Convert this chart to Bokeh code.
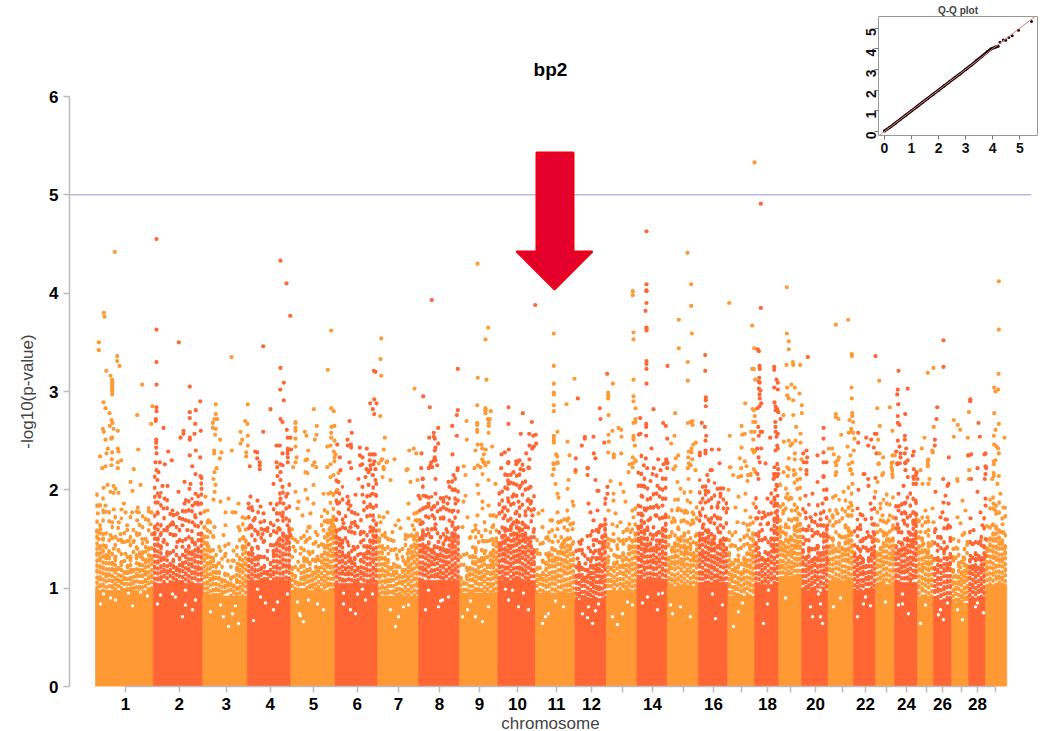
from math import pi
from bokeh.plotting import figure
from bokeh.layouts import column
from bokeh.models import FixedTicker, Title
from bokeh.embed import file_html
from bokeh.resources import INLINE

ORANGE = "#FF9933"
RED = "#FF6633"
FONT = "Liberation Sans"

# chromosome layout on the position axis
chr_edges = [95, 152.7, 202.3, 246.7, 290.3, 334.3, 377.3, 418, 459, 497.3, 535, 574.3, 606, 636.3, 666.7,
             697.7, 727.3, 754, 778.3, 801, 827.7, 852.7, 875.3, 894, 917, 932.7, 951.3, 968, 985, 1006.3]
# level up to which each chromosome is a solid band
chr_core = [0.98, 1.05, 0.92, 1.08, 0.98, 1.05, 0.92, 1.08, 0.95, 1.08, 0.95, 0.88, 0.98, 1.08, 1.02,
            1.06, 0.92, 1.04, 1.12, 0.98, 1.08, 0.98, 1.04, 1.06, 0.9, 0.88, 0.85, 0.9, 1.04]
# level up to which the band is still dense, read across each chromosome from left to right
chr_dense = [
 [1.58,1.42,1.5,1.33,1.37,1.25,1.3,1.2,1.26,1.16,1.22,1.3,1.18,1.33,1.24,1.36,1.28,1.4,1.32],
 [1.62,1.5,1.42,1.3,1.36,1.24,1.28,1.2,1.3,1.25,1.38,1.42,1.36,1.45,1.4,1.55],
 [1.52,1.45,1.38,1.3,1.22,1.16,1.08,1.14,1.05,1.1,1.02,1.2,1.3,1.42,1.48],
 [1.35,1.4,1.3,1.32,1.2,1.22,1.16,1.25,1.35,1.45,1.5,1.55,1.52,1.6],
 [1.2,1.12,1.05,1.22,1.3,1.18,1.25,1.15,1.28,1.2,1.33,1.42,1.55,1.68,1.72],
 [1.58,1.5,1.48,1.32,1.35,1.26,1.3,1.2,1.28,1.34,1.42,1.48,1.6,1.65],
 [1.5,1.42,1.3,1.28,1.2,1.16,1.22,1.12,1.18,1.25,1.3,1.42,1.5,1.55],
 [1.5,1.58,1.42,1.46,1.38,1.42,1.33,1.4,1.45,1.38,1.5,1.55,1.6,1.52],
 [1.1,1.05,1.12,1.2,1.32,1.38,1.28,1.3,1.36,1.22,1.35,1.45,1.5],
 [1.45,1.52,1.6,1.5,1.62,1.55,1.68,1.6,1.66,1.55,1.5,1.42,1.38],
 [1.2,1.12,1.15,1.25,1.35,1.4,1.3,1.36,1.42,1.48,1.5,1.42,1.35],
 [1.12,1.25,1.2,1.1,1.18,1.28,1.22,1.3,1.38,1.52,1.6],
 [1.28,1.2,1.25,1.32,1.22,1.35,1.3,1.42,1.48,1.55],
 [1.62,1.75,1.58,1.5,1.45,1.4,1.55,1.48,1.6,1.65],
 [1.3,1.38,1.45,1.5,1.42,1.55,1.48,1.42,1.35,1.45],
 [1.55,1.62,1.5,1.58,1.45,1.52,1.42,1.48,1.5,1.4],
 [1.35,1.25,1.2,1.28,1.15,1.3,1.35,1.42,1.55],
 [1.45,1.35,1.3,1.28,1.35,1.5,1.7,1.85],
 [1.6,1.45,1.55,1.48,1.5,1.62,1.7,1.65],
 [1.38,1.3,1.4,1.28,1.3,1.42,1.35,1.55,1.6],
 [1.42,1.5,1.38,1.45,1.4,1.52,1.6,1.55],
 [1.35,1.3,1.38,1.28,1.22,1.3,1.4,1.55],
 [1.35,1.4,1.45,1.55,1.48,1.5],
 [1.42,1.38,1.45,1.4,1.5,1.55,1.68,1.75],
 [1.42,1.5,1.38,1.45,1.32],
 [1.2,1.3,1.22,1.38,1.3,1.25],
 [1.18,1.12,1.25,1.15,1.3,1.22],
 [1.28,1.22,1.35,1.2,1.3,1.42],
 [1.4,1.5,1.55,1.62,1.58,1.48,1.42],
]
# level where the scattered cloud above the dense band thins out
chr_cloud = [1.85,1.95,1.7,1.9,1.8,1.95,1.7,1.95,1.75,2.0,1.75,1.7,1.75,2.0,1.85,1.95,1.7,1.9,1.9,1.85,1.85,1.8,1.85,1.9,1.7,1.8,1.7,1.7,1.8]
chr_ticks = [125, 178.7, 225.7, 269.7, 313, 356.7, 398, 439, 479, 517, 556, 591, 622, 652, 683, 713, 741, 767,
             790, 815, 842, 865, 886, 906, 926, 942, 961, 977, 995]
chr_tick_labels = ["1", "2", "3", "4", "5", "6", "7", "8", "9", "10", "11", "12", "", "14", "", "16", "", "18",
                   "", "20", "", "22", "", "24", "", "26", "", "28", ""]

# points, flat: position, -log10(p), position, -log10(p) ...
chr_1 = [114.3,4.42,103.3,3.8,104,3.76,98.3,3.5,98.3,3.42,116.7,3.36,116.7,3.31,119,3.26,105.7,3.21,110,3.16,
111.7,3.12,111.7,3.1,111.7,3.08,111.7,3.06,111.7,3.04,111.7,3.02,111.7,3.0,111.7,2.97,141.7,3.07,103,2.89,105,2.83,
109,2.78,136.7,2.76,152,2.85,150.7,2.67,111,2.71,112,2.68,109.3,2.65,102.3,2.62,103.3,2.59,113,2.62,117.3,2.6,
111.7,2.53,110.7,2.52,105,2.51,107.3,2.42,117.3,2.42,137.7,2.41,106,2.37,111.7,2.38,118,2.39,99.7,2.34,111.3,2.31,
120.7,2.3,117.3,2.28,111,2.25,105,2.24,101.7,2.22,117.3,2.22,133.3,2.21,
103,2.02,107,2.05,110,1.98,113,2.04,115,2.01,113,1.97,118,1.97,130,2.08,132,1.99,140,2.05,99.3,1.84,105,1.84,
103.3,1.77,123.3,1.86,113.3,1.8,121,1.8,125,1.77,137.3,1.82,131.7,1.77,138.3,1.77,148.3,1.78,151,1.77,97.3,1.76,
111.7,1.67,118.3,1.67,126.7,1.64,136.7,1.69,150,1.65,100,1.6,102.7,1.55,98.3,1.5,110,1.54,115,1.52,120,1.55,
136.7,1.54,141.7,1.5,146.7,1.47,105,1.43,121.7,1.47,128.3,1.48,133.3,1.48,113.3,1.4,118.3,1.38,125,1.35,136.7,1.4,
145,1.37,98.3,1.35,106.7,1.33,115,1.32,130,1.32,140,1.32,150,1.31]
chr_2 = [156,4.55,156,3.63,178.3,3.5,156,3.3,156,3.07,189.3,3.05,156,2.84,156,2.8,199.7,2.9,195.3,2.81,189.3,2.79,
189.3,2.73,155.3,2.72,155.3,2.7,194.7,2.67,163,2.63,200.3,2.6,183,2.6,183,2.57,194,2.57,180,2.53,189.3,2.53,
189.3,2.51,155.7,2.51,155.7,2.48,155.7,2.43,195.3,2.4,167.7,2.39,156,2.37,189.3,2.35,199.7,2.33,171.3,2.3,155,2.28,
159.3,2.28,164.3,2.26,191.7,2.24,156,2.2,
158,2.18,157,2.1,162,2.04,167,2.04,178,1.98,184,2.08,190,2.06,195,2.16,200,2.14,201,2.12,189,2.01,195,1.96,201,2.01,
159,1.93,164,1.91,155,1.87,157,1.77,163,1.81,172,1.79,177,1.76,184,1.86,192,1.84,197,1.87,195,1.72,192,1.67,187,1.59,
198,1.55,157,1.65,167,1.62,160,1.54,172,1.67,175,1.54,182,1.64,200,1.76,153,1.55,163,1.47,177,1.47,192,1.47,200,1.49,182,1.42]
chr_3 = [231,3.35,215.3,2.87,247.3,2.87,215.3,2.77,216.7,2.72,214,2.72,212.3,2.68,244.7,2.7,247,2.67,212.3,2.63,
215.3,2.62,240,2.59,214.7,2.56,247.3,2.55,219.7,2.51,241.7,2.51,240,2.47,247.3,2.45,213.7,2.4,213.7,2.37,231.3,2.4,
221,2.38,245.7,2.38,219.3,2.32,245.7,2.34,216,2.22,
214,2.18,213,2.11,215,2.05,205,1.93,214,1.98,213,1.9,220,1.88,228,1.91,232,1.77,225,1.77,235,1.77,225,1.64,207,1.79,
208,1.69,214,1.62,223,1.54,238,1.86,242,1.72,238,1.62,245,1.71,204,1.62,207,1.52,213,1.52,228,1.45,233,1.38,220,1.38,
208,1.42,225,1.35,232,1.28,242,1.42,243,1.52,218,1.25,237,1.25,207,1.32]
chr_4 = [280,4.33,286,4.1,289.7,3.77,262.7,3.46,280,3.24,283.3,3.09,279.7,3.02,283.3,2.91,270,2.82,280,2.72,282,2.69,
262.7,2.59,286.3,2.61,287.3,2.53,290,2.53,276,2.45,279.3,2.45,287.3,2.42,287.3,2.4,290.7,2.41,287,2.37,282,2.37,
287.3,2.33,254.7,2.39,256.7,2.38,256.7,2.32,259.3,2.28,259.3,2.25,259.3,2.21,249.3,2.24,276,2.28,280,2.26,282,2.25,
276.7,2.23,287.3,2.28,
250,1.93,248,1.86,252,1.79,257,1.89,260,1.83,263,1.76,253,1.69,260,1.67,250,1.64,257,1.57,262,1.55,263,1.47,273,1.64,
277,1.69,282,1.73,287,1.96,280,2.1,282,2.03,280,1.91,283,1.86,273,2.06,270,1.86,278,1.61,287,1.64,290,1.54,267,1.61,
278,1.49,287,1.49,257,1.42,273,1.38,252,1.35,260,1.32,280,2.18,277,2.14]
chr_5 = [330.7,3.62,327.3,3.22,313.3,2.82,330.7,2.83,333.3,2.8,295,2.69,295,2.68,316.3,2.65,331,2.64,334,2.65,295,2.63,
295,2.6,304.3,2.59,306,2.55,316,2.56,330.7,2.58,295,2.52,314.3,2.51,330.7,2.53,334,2.5,330,2.45,326.7,2.44,295,2.44,
307.7,2.4,333.3,2.39,335,2.36,334,2.33,296,2.33,306.7,2.31,305,2.3,295,2.28,314,2.28,312.3,2.25,315.7,2.23,330,2.26,
326.7,2.23,334,2.29,292.7,2.23,
295,1.98,298,1.88,305,2.0,307,1.91,313,2.05,313,1.86,310,1.76,323,1.96,328,1.96,333,1.96,337,2.0,330,2.13,333,2.15,
338,2.17,307,2.17,305,2.18,297,1.81,302,1.74,308,1.62,297,1.47,305,1.47,313,1.45,327,1.67,332,1.64,323,1.59,317,1.54,
323,1.44,308,1.37,293,1.42,300,1.35,317,1.32,330,1.39,307,1.27,327,1.22,331,1.66,334,1.62,329,1.6,333,1.57]
chr_6 = [373.3,3.21,375,3.2,373.7,2.92,369.7,2.88,376,2.88,372.3,2.82,373.7,2.77,349,2.7,351.3,2.58,347,2.51,347.3,2.45,
350.3,2.46,350.7,2.43,336.7,2.46,359.3,2.43,366.3,2.42,339.3,2.33,359.3,2.35,362,2.33,369.3,2.36,372,2.36,374.3,2.36,
369.3,2.3,374,2.29,349,2.28,361.7,2.26,360,2.25,372.7,2.26,370,2.25,350.7,2.22,366,2.21,370,2.21,375,2.21,
347,1.93,355,1.95,362,1.95,368,2.18,372,2.15,375,2.1,362,2.03,372,1.96,375,1.95,350,1.84,347,1.86,368,2.05,365,2.13,
358,2.11,340,2.2,338,2.08,337,1.86,338,1.77,343,1.66,350,1.62,355,1.64,360,1.55,370,1.83,373,1.69,370,1.62,375,1.52,
363,1.49,347,1.47,340,1.45,353,1.42,360,1.35,368,1.37,342,1.33,350,1.3]
chr_7 = [380.7,3.54,380,3.33,380.7,3.16,379.7,2.75,384.3,2.53,383.3,2.41,380.7,2.3,386.7,2.29,378.3,2.27,383.3,2.21,
414,3.03,408.7,2.4,413.3,2.42,415.7,2.37,394,2.31,381.7,2.31,386,2.28,406,2.2,
383,2.23,382,2.13,390,2.1,407,2.21,410,2.08,417,2.1,408,1.86,387,1.77,383,1.72,380,1.67,398,1.69,395,1.64,392,1.57,
408,1.71,415,1.69,418,1.69,400,1.61,412,1.64,393,1.48,385,1.52,405,1.5,413,1.53,415,1.41,395,1.4,407,1.35,388,1.35,
397,1.3,412,1.32,382,1.41,403,1.28,392,1.21,408,1.21]
chr_8 = [431.3,3.93,457.3,3.23,422.7,2.95,429.3,2.84,457.3,2.81,456.3,2.76,451.7,2.65,437.7,2.63,433.3,2.58,428.7,2.53,
433.3,2.54,434.3,2.52,437.7,2.47,435,2.43,434.3,2.4,456.3,2.55,421,2.37,452,2.36,434.3,2.33,433.3,2.3,430.7,2.28,
436.7,2.25,431.7,2.23,428.3,2.22,420.7,2.22,457.3,2.22,
435,2.3,430,2.25,422,2.11,435,2.11,418,1.94,423,1.94,435,1.96,428,1.86,433,1.83,443,1.88,447,1.86,455,1.86,453,1.79,
432,1.74,435,1.65,443,1.72,452,1.67,420,1.65,427,1.6,435,1.6,455,1.6,447,1.57,422,1.53,453,1.52,430,1.52,438,1.47,
452,1.45,423,1.41,445,1.49,432,1.38,457,2.2,453,2.15,448,2.08,449,2.03,453,2.0]
chr_9 = [477,4.3,487.7,3.65,485,3.53,477.3,3.14,486,3.12,476.7,2.86,485,2.83,485,2.81,485,2.78,490.3,2.8,487.3,2.72,
489.3,2.72,466,2.7,476.7,2.68,476.7,2.66,476.7,2.61,476.7,2.59,488.3,2.68,488.3,2.65,488,2.58,466.3,2.51,477.3,2.46,
481,2.46,481.7,2.42,485.3,2.41,491.7,2.44,475,2.4,483.3,2.36,481.7,2.31,483.3,2.28,487.7,2.28,477.3,2.25,480,2.23,
463.3,2.24,474,2.22,
483,2.28,485,2.25,482,2.16,465,2.15,477,2.05,488,2.1,495,2.06,478,1.96,465,1.94,482,1.88,488,1.84,482,1.81,463,1.88,
467,1.72,477,1.74,490,1.74,462,1.62,475,1.64,485,1.59,492,1.62,470,1.52,482,1.48,492,1.5,475,1.41,485,1.38,493,1.38,
472,1.32,482,1.28,492,1.25,467,1.18]
chr_10 = [534.7,3.88,508,2.84,522.3,2.78,531.3,2.69,508,2.67,520.3,2.57,528.7,2.57,532.7,2.55,535.3,2.56,529,2.45,
535.7,2.47,533.3,2.44,531.7,2.42,525.7,2.37,504.3,2.38,508.3,2.41,501,2.36,529,2.31,507.7,2.28,515.7,2.29,519,2.3,
515.7,2.26,507.7,2.27,500.7,2.22,528.3,2.22,520,2.21,
508,2.28,517,2.28,507,2.15,513,2.18,523,2.2,528,2.23,508,2.06,520,2.04,530,2.03,507,2.01,512,1.93,508,1.88,503,1.82,
518,1.88,527,1.89,530,1.86,515,1.76,525,1.74,532,1.74,503,1.71,512,1.65,518,1.67,507,1.59,525,1.62,533,1.57,502,1.53,
517,1.53,523,1.5,500,1.43,510,1.41,530,1.47,532,1.35,503,1.35,518,1.33]
chr_11 = [553.3,3.59,553.3,3.26,553.3,3.08,553.3,2.99,553.3,2.97,574,3.13,553.3,2.86,553.3,2.8,566,2.87,557,2.59,553.3,2.55,
553.3,2.53,553.3,2.5,553.3,2.48,567,2.49,555.7,2.36,556.7,2.34,569,2.35,553.3,2.26,557,2.27,553.3,2.21,
553,2.27,557,2.28,552,2.15,555,2.06,568,2.1,567,2.01,557,1.96,558,1.92,572,1.88,575,2.18,573,1.84,557,1.77,542,1.79,
538,1.76,550,1.69,558,1.67,568,1.71,572,1.6,542,1.62,547,1.52,557,1.6,567,1.59,552,1.47,562,1.45,540,1.45,572,1.45,
537,1.35,548,1.32,560,1.37,542,1.28,565,1.28]
chr_12 = [606.7,3.18,577.3,2.93,599.3,2.83,600,2.72,584.3,2.54,584.3,2.52,593,2.54,581.3,2.45,603.7,2.48,593.3,2.37,595,2.32,
575.3,2.32,587.3,2.22,575,2.2,
587,2.22,587,2.15,595,2.1,588,1.86,597,1.99,598,1.99,607,2.03,607,1.96,605,1.91,590,1.77,597,1.79,593,1.69,600,1.64,
605,1.65,592,1.58,598,1.57,605,1.53,587,1.53,593,1.49,580,1.45,588,1.41,603,1.43,582,1.35,595,1.38,577,1.3,592,1.31,
600,1.31,580,1.21,578,1.2,585,1.25,590,1.15,597,1.2,603,1.22,583,1.1,592,1.05,600,1.08]
chr_13 = [612.3,3.08,607.7,2.99,607.7,2.96,607.7,2.93,608,2.76,612,2.6,608,2.56,608.3,2.49,620.7,2.61,618,2.63,621,2.54,
607.7,2.38,613.3,2.36,613.3,2.33,620.7,2.37,629,2.26,632.3,2.27,635,2.29,632.3,2.33,632.3,4.02,632.3,3.98,633,3.6,633,3.53,
633,3.12,633,2.95,633,2.9,635,2.83,633,2.68,635,2.69,635,2.72,633,2.55,633,2.53,633,2.51,634.3,2.45,
610,2.09,613,1.96,613,1.89,608,1.79,615,1.76,620,2.06,623,1.98,625,1.88,620,1.67,627,1.6,633,1.72,628,2.18,635,2.3,
632,2.23,612,1.65,618,1.5,613,1.55,630,1.57,608,1.45,623,1.45,632,1.48,617,1.4,628,1.35,608,1.32,622,1.28]
chr_14 = [646,4.63,646,4.09,646,4.03,646,4.02,646,3.9,645,3.82,646,3.65,646,3.64,646,3.62,646,3.31,646,3.28,646,3.23,646,3.08,
667,3.26,653,2.82,639.7,2.73,645.7,2.67,645.7,2.64,662.7,2.68,665.3,2.65,640,2.57,638.3,2.56,645.7,2.55,666.7,2.52,651,2.42,
645.3,2.32,657.7,2.31,665.7,2.31,665.7,2.28,666.7,2.27,643.3,2.25,646.7,2.22,653.3,2.22,666.7,2.22,
642,1.93,640,1.83,645,1.79,643,2.04,652,2.16,650,2.09,657,2.04,663,2.26,667,2.28,660,2.2,642,1.74,648,1.69,655,1.74,
662,1.84,658,1.82,665,1.72,638,1.62,647,1.59,658,1.57,665,1.59,640,1.48,652,1.5,662,1.48,645,1.4,657,1.4,642,1.33,
665,1.35,652,1.28]
chr_15 = [687,4.41,690.7,4.09,690.7,3.87,678.3,3.73,691.3,3.59,678.3,3.44,687.3,3.3,687.3,3.11,674.7,2.78,687.3,2.68,690,2.69,
692,2.7,692,2.66,674,2.55,670.7,2.47,695.3,2.48,692.7,2.46,691,2.42,688.3,2.39,691,2.38,677.7,2.35,675.3,2.32,687.7,2.33,
691.7,2.31,688.3,2.27,690,2.25,687.3,2.22,675,2.24,
673,2.21,677,2.08,690,2.25,695,2.2,688,2.11,680,2.01,690,1.98,677,1.79,685,1.79,692,1.77,673,1.71,683,1.69,692,1.69,
678,1.6,670,1.53,688,1.57,695,1.53,680,1.48,672,1.41,690,1.45,685,1.38,675,1.33,693,1.31,682,1.26,670,1.21]
chr_16 = [704.7,3.37,704.7,3.21,705.3,2.94,705.3,2.91,705.3,2.85,701.3,2.68,704.3,2.64,705.7,2.55,705,2.5,699.3,2.38,699.3,2.35,
705,2.4,705,2.37,711.3,2.41,718.3,2.41,719,2.27,711.3,2.2,706.7,2.15,
700,1.87,705,1.99,710,2.2,717,2.01,720,1.96,718,1.87,717,1.82,727,1.81,705,1.87,700,1.74,703,1.65,710,1.67,717,1.72,
720,1.64,707,1.57,718,1.57,725,1.49,700,1.5,712,1.49,708,1.41,718,1.43,702,1.35,723,1.37]
chr_17 = [728.7,3.9,751.7,3.67,744.7,2.88,741,2.65,729.3,2.55,741.7,2.56,744.3,2.57,741,2.43,739.3,2.32,744.3,2.29,746,2.24,
740.7,2.22,729.3,2.23,732.7,2.15,740.7,2.14,747.3,2.15,754,5.33,753.7,3.44,751.7,3.23,753.3,3.23,754.7,3.12,752.3,2.82,
753.3,2.81,754.3,2.75,755,2.69,752.7,2.69,750.7,2.59,754,2.59,752.7,2.51,751.7,2.41,755,2.4,753.3,2.38,753.3,2.21,755,2.18,
750,2.15,
730,2.23,738,2.13,728,2.0,735,1.82,747,2.09,750,2.16,738,1.93,745,1.96,745,1.79,753,1.86,737,1.67,743,1.66,750,1.72,
735,1.57,748,1.59,740,1.49,730,1.43,747,1.45,738,1.33,752,1.33,745,1.25,733,1.25,742,1.15,750,1.15,732,1.11]
chr_18 = [760.3,4.91,760.3,3.85,757.3,3.43,758.3,3.41,759,3.26,759.3,3.23,758.7,3.14,758.3,3.1,759.3,3.09,758.3,3.03,760,3.01,
759,2.97,759.3,2.93,760.7,2.88,759,2.85,756.7,2.83,757.7,2.64,760,2.59,758.3,2.55,761.7,2.59,756.7,2.42,760.7,2.42,758,2.33,
759.3,2.28,765,2.27,769.7,2.53,773.7,3.25,773.7,3.22,776,3.12,777.3,3.09,773.7,3.04,777.3,3.02,774,2.89,775,2.85,776.7,2.82,
775,2.81,777.7,2.79,780,2.72,774.7,2.69,775,2.64,775.3,2.59,777.3,2.57,776,2.54,776.7,2.45,775,2.4,777.3,2.42,774,2.23,
777.7,2.21,773.3,2.16,777.7,2.16,
757,2.16,758,2.11,775,2.16,773,2.11,775,2.0,777,1.94,775,1.86,775,1.77,757,1.71,763,1.77,767,1.91,760,1.65,767,1.65,
777,1.71,758,1.53,765,1.5,775,1.57,758,1.41,773,1.41,767,1.35,762,1.3,776,2.05,774,1.9]
chr_19 = [786.3,4.06,786.3,3.59,788.3,3.51,788.3,3.43,786,3.27,792.3,3.3,792.7,3.27,799.7,3.27,791,3.07,786.7,3.04,794.3,3.04,
786.7,2.96,788.3,2.93,792.7,2.91,799,2.98,783,2.76,792.7,2.76,801.3,2.86,801.3,2.78,795.7,2.64,800,2.57,795,2.5,800,2.48,
791.7,2.47,788.3,2.5,783.3,2.49,790,2.45,794.3,2.37,788.3,2.32,794.3,2.31,801,2.31,786.7,2.23,788.3,2.21,793.3,2.2,800,2.21,
787.3,2.14,793.3,2.15,
783,2.18,795,2.16,787,1.96,790,1.92,783,1.79,798,1.76,795,1.79,785,1.62,795,1.59,790,1.52,780,1.47,800,1.52,785,1.41,
797,1.43,792,1.35,780,1.62]
chr_20 = [807.3,3.35,806,2.4,802.7,2.37,806.7,2.33,806,2.28,803.3,2.28,823,2.63,823,2.52,817,2.35,823,2.38,823,2.28,826,2.28,
806,2.2,806,2.16,823,2.13,
805,1.94,812,1.96,805,1.77,810,1.72,817,2.08,823,2.14,822,1.86,825,1.91,827,1.64,815,1.75,820,1.7,807,1.59,812,1.53,
827,1.52,817,1.57,803,1.45,810,1.4,817,1.43,827,1.42,807,1.32,820,1.33,812,1.28,827,1.28]
chr_21 = [835.3,3.68,847.7,3.73,851.3,3.38,851.3,3.36,851,3.04,851.3,2.93,835.3,2.77,835.3,2.74,838,2.72,849,2.71,851.7,2.78,
851.7,2.75,852.7,2.69,850.7,2.62,850.7,2.59,848.3,2.58,852.7,2.58,840.7,2.56,854,2.52,847,2.44,828.3,2.42,831.7,2.42,833.3,2.36,
838.3,2.33,837.3,2.3,835.7,2.25,853.3,2.4,850,2.35,851.7,2.28,848.3,2.26,835.7,2.18,835,2.15,850,2.2,851.7,2.16,
835,2.28,850,2.21,852,2.06,835,1.94,843,1.98,850,1.87,832,1.74,837,1.76,847,1.74,852,1.79,833,1.64,845,1.64,850,1.57,
832,1.5,840,1.52,848,1.48,835,1.4,845,1.38,852,1.37]
chr_22 = [875,3.36,857.7,2.58,857.7,2.48,865.7,2.53,870.7,2.51,867.7,2.45,873.3,2.43,874.3,2.57,876,2.57,876,2.37,864,2.16,875,2.12,
867.7,2.11,
863,2.16,868,2.04,858,2,870,1.86,857,1.81,862,1.74,865,1.7,872,1.65,860,1.6,867,1.57,873,1.57,857,1.53,862,1.48,872,1.47,
858,1.4,867,1.38,873,1.35,862,1.3]
chr_23 = [878.7,3.11,876.7,2.83,889.3,2.84,879.3,2.65,877.7,2.51,892,2.6,879,2.37,882.7,2.33,892,2.35,894.3,2.35,878.3,2.27,891,2.27,
891,2.23,891.7,2.2,891.7,2.16,882.7,2.17,881.7,2.15,
878,2.26,892,2.28,892,2.13,875,1.98,877,2.08,880,1.86,882,1.74,888,1.69,877,1.64,883,1.57,892,1.6,878,1.48,888,1.5,893,1.43,
880,1.35,892,1.33]
chr_24 = [898,3.21,897.3,3.02,896.7,2.97,907.3,3.03,897.7,2.87,897.3,2.75,897.3,2.68,899,2.66,904.7,2.77,897.3,2.5,899,2.44,904.3,2.55,
904.3,2.51,895.7,2.39,900,2.37,905.7,2.42,904.3,2.37,913.3,2.39,912.3,2.35,900,2.33,896.7,2.27,904.7,2.27,907.3,2.3,899.3,2.27,
905,2.2,907.3,2.13,913.3,2.21,916,2.18,913.3,2.11,
897,2.26,905,2.28,898,1.96,903,2.04,913,2.06,917,2.11,905,1.87,915,1.89,898,1.79,905,1.76,913,1.77,897,1.65,903,1.69,915,1.65,
898,1.57,908,1.57,915,1.55,902,1.45,912,1.45,897,1.35,907,1.37,915,1.35]
chr_25 = [927.3,3.19,933,3.24,921.3,2.42,924,2.53,927.7,2.31,927.3,2.29,927.3,2.26,927.3,2.24,932.3,2.38,931.7,2.4,933.3,2.64,920,2.2,
929,2.11,
922,2.06,928,2.06,925,1.79,932,1.81,918,1.69,927,1.72,933,1.67,920,1.57,928,1.59,923,1.45,932,1.47,918,1.37,927,1.35,933,1.28,
922,1.21,928,1.18]
chr_26 = [943,3.52,943,3.25,936.7,2.84,936,2.72,934.3,2.51,934.3,2.45,948.3,2.33,942.7,2.11,
947,2.04,948,2.06,945,1.94,943,1.87,948,1.86,935,1.98,942,1.77,940,1.72,945,1.7,935,1.6,948,1.64,940,1.52,950,1.48,937,1.38,
945,1.4,950,1.31,940,1.28,947,1.21]
chr_27 = [953.3,2.71,957.3,2.66,959.7,2.61,953.3,2.54,967.3,2.53,968.3,2.79,967.3,2.35,968.7,2.2,956.7,2.11,968.3,2.11,
957,2.09,962,1.89,957,1.72,960,1.66,965,1.79,953,1.5,962,1.54,967,1.47,957,1.4,963,1.31,953,1.28,960,1.21,967,1.18,957,1.11]
chr_28 = [969.7,2.92,969.7,2.9,978,2.68,979.3,2.54,970.7,2.36,968.3,2.35,984,2.36,985,2.37,977,2.22,985,2.24,985.7,2.22,970.7,2.11,
985,2.16,984.3,2.11,
977,1.98,985,1.91,985,1.84,980,1.77,970,1.71,973,1.59,982,1.64,985,1.5,972,1.45,980,1.48,970,1.33,978,1.33,985,1.33,975,1.21,982,1.2]
chr_29 = [998.3,4.12,998.3,3.63,998,3.18,993.7,3.04,995,3.0,997.7,3.02,993.7,2.78,998.3,2.67,995,2.61,993.3,2.55,1004,2.53,993.7,2.46,
996,2.44,997.7,2.42,998.3,2.37,993.3,2.29,995,2.3,993.3,2.26,993.3,2.17,993.3,2.14,998.3,2.14,991.7,2.11,
997,2.06,993,1.86,1000,1.96,995,1.79,1003,1.82,992,1.64,1002,1.65,1003,1.57,995,1.5,1000,1.45,992,1.38,1003,1.4,995,1.31,1002,1.3]
chr_points = [chr_1, chr_2, chr_3, chr_4, chr_5, chr_6, chr_7, chr_8, chr_9, chr_10, chr_11, chr_12, chr_13, chr_14, chr_15,
              chr_16, chr_17, chr_18, chr_19, chr_20, chr_21, chr_22, chr_23, chr_24, chr_25, chr_26, chr_27, chr_28, chr_29]

# gaps (position, -log10(p)) inside the dense part of each chromosome
gaps = [103,.94,110,.9,132,.82,128,.95,115,.88,147,.92,100,.84,140,.96,160,.93,175,.91,185,.98,195,.88,182,.71,172,.94,
192,.78,157,.84,185,.83,223,.71,232,.74,228,.61,235,.82,220,.83,238,.64,210,.76,260,.91,257,.99,277,.86,273,.78,253,.67,
287,.94,265,.85,297,.86,299,.74,300,.72,317,.84,308,.88,323,.78,303,.66,362,.99,355,.74,343,.84,365,.88,350,.78,372,.94,
357,.94,343,.95,403,.81,390,.78,398,.71,408,.83,395,.61,442,.88,438,.81,428,.98,448,.91,440,.87,425,.78,467,.78,462,.71,
488,.81,475,.71,482,.66,470,.87,512,.98,518,.81,508,.88,523,.95,505,.99,528,.78,548,.74,545,.71,563,.81,555,.87,542,.64,
588,.81,595,.77,592,.64,582,.74,598,.84,587,.7,622,.74,627,.86,612,.71,632,.83,617,.63,658,.94,657,.78,647,.91,642,.85,
662,.95,672,.74,680,.81,690,.71,670,.83,712,.94,722,.83,715,.69,738,.76,742,.85,733,.61,768,.98,763,.64,767,.84,785,.9,
820,.71,820,.84,818,.94,810,.81,822,.64,812,.71,820,.98,840,.9,833,.81,863,.84,870,.82,865,.91,857,.71,885,.86,902,.84,
908,.74,902,.94,898,.83,925,.83,920,.64,940,.78,938,.73,947,.85,943,.68,957,.78,962,.68,977,.85,975,.81,983,.75]

threshold = 5
arrow_x = [536, 573, 573, 592, 554, 516, 536]
arrow_y = [5.43, 5.43, 4.424, 4.424, 4.037, 4.424, 4.424]

# Q-Q inset
qq_expected = [0,0.2,0.4,0.6,0.8,1,1.2,1.4,1.6,1.8,2,2.2,2.4,2.6,2.8,3,3.2,3.4,3.6,3.8,3.95,4.1,4.2]
qq_observed = [0.02,0.2,0.4,0.6,0.8,1,1.2,1.4,1.6,1.8,2,2.2,2.4,2.6,2.79,3,3.2,3.42,3.63,3.85,4.0,4.08,4.12]
qq_tail_expected = [4.27,4.39,4.48,4.59,4.72,4.95,5.43]
qq_tail_observed = [4.31,4.42,4.41,4.55,4.63,4.9,5.32]

p = figure(width=1037, height=730, x_range=(69, 1031), y_range=(0, 6), toolbar_location=None, output_backend="svg",
           frame_width=962, frame_height=590, min_border_left=69, min_border_right=6, min_border_top=96, min_border_bottom=44)
p.outline_line_color = None
p.grid.visible = False

colors = [ORANGE if i % 2 == 0 else RED for i in range(len(chr_core))]
# stippling: one dotted column per reading, dense up to chr_dense and scattered above it
dense_dashes = ["1 4 2 5 1 4", "2 4 1 4 3 5", "1 5 1 4 2 4", "3 4 1 5 1 4", "1 4 2 4 1 5"]
cloud_dashes = ["1 8 1 15 1 10", "1 12 1 7 1 19", "1 17 1 9 1 11", "1 7 1 13 1 21", "1 10 1 18 1 8"]
n = 0
for i, col in enumerate(chr_dense):
    w = (chr_edges[i + 1] - chr_edges[i]) / len(col)
    for j, top in enumerate(col):
        px = chr_edges[i] + (j + 0.5) * w
        ceiling = chr_cloud[i] + (top - 1.4)
        if ceiling > top:
            p.segment([px], [top], [px], [ceiling], line_color=colors[i], line_width=3.6,
                      line_dash=cloud_dashes[n % 5], line_cap="round")
        p.segment([px], [top], [px], [chr_core[i]], line_color=colors[i], line_width=3.6,
                  line_dash=dense_dashes[n % 5], line_cap="round")
        n += 1
p.quad(left=chr_edges[:-1], right=chr_edges[1:], bottom=0, top=chr_core, fill_color=colors, line_color=colors, line_width=0.6)
p.scatter(gaps[::2], gaps[1::2], size=3.4, fill_color="white", line_color=None)
for pts, c in zip(chr_points, colors):
    p.scatter(pts[::2], pts[1::2], size=4.2, fill_color=c, line_color=None)

p.line([69, 1031], [threshold, threshold], line_color="#9999DD", line_width=1)
p.patch(arrow_x, arrow_y, fill_color="#E4002B", line_color="#EE0011", line_width=2)

AX = "#BBBBBB"
xa = p.xaxis[0]
xa.ticker = FixedTicker(ticks=chr_ticks)
xa.major_label_overrides = {t: l for t, l in zip(chr_ticks, chr_tick_labels)}
xa.bounds = (125, 995)
xa.axis_label = "chromosome"
xa.axis_label_text_font = FONT
xa.axis_label_text_font_size = "17px"
xa.axis_label_text_font_style = "normal"
xa.axis_label_standoff = 1
ya = p.yaxis[0]
ya.ticker = FixedTicker(ticks=[0, 1, 2, 3, 4, 5, 6])
ya.bounds = (0, 6)
ya.axis_label = "-log10(p-value)"
ya.axis_label_text_font = FONT
ya.axis_label_text_font_size = "17px"
ya.axis_label_text_font_style = "normal"
ya.axis_label_standoff = 9
for a in (xa, ya):
    a.axis_line_color = AX
    a.axis_line_width = 1.5
    a.major_tick_line_color = AX
    a.major_tick_line_width = 1.5
    a.major_tick_out = 6
    a.major_tick_in = 0
    a.minor_tick_line_color = None
    a.major_label_text_font = FONT
    a.major_label_text_font_style = "bold"
    a.major_label_text_font_size = "17px"
    a.major_label_text_color = "#000000"
    a.major_label_standoff = 5
ya.major_label_orientation = "horizontal"

p.title = Title(text="bp2", align="center", text_font=FONT, text_font_size="19px", text_font_style="bold", standoff=33,
                text_color="#000000")

# inset
q = figure(width=234, height=158, x_range=(-0.217, 5.652), y_range=(-0.193, 5.56), toolbar_location=None, output_backend="svg",
           min_border_left=34, min_border_right=2, min_border_top=14, min_border_bottom=25,
           styles={"position": "absolute", "left": "809px", "top": "2px", "z-index": "10"})
q.grid.visible = False
q.outline_line_color = "#999999"
q.line(qq_expected, qq_observed, line_color="#1A0505", line_width=3)
q.scatter(qq_expected, qq_observed, size=3, fill_color="#1A0505", line_color=None)
q.scatter(qq_tail_expected, qq_tail_observed, size=3, fill_color="#1A0505", line_color=None)
q.line([-1, 7], [-1, 7], line_color="#E08080", line_width=1)
for a in (q.xaxis[0], q.yaxis[0]):
    a.ticker = FixedTicker(ticks=[0, 1, 2, 3, 4, 5])
    a.axis_line_color = None
    a.major_tick_line_color = "#777777"
    a.major_tick_out = 4
    a.major_tick_in = 0
    a.minor_tick_line_color = None
    a.major_label_text_font = FONT
    a.major_label_text_font_style = "bold"
    a.major_label_text_font_size = "14px"
    a.major_label_text_color = "#111111"
    a.major_label_standoff = 3
q.yaxis[0].major_label_orientation = pi / 2
q.title = Title(text="Q-Q plot", align="center", text_font=FONT, text_font_size="10px", text_font_style="bold", standoff=1)

page = column(p, q)
open("out.html", "w").write(file_html(page, INLINE))
